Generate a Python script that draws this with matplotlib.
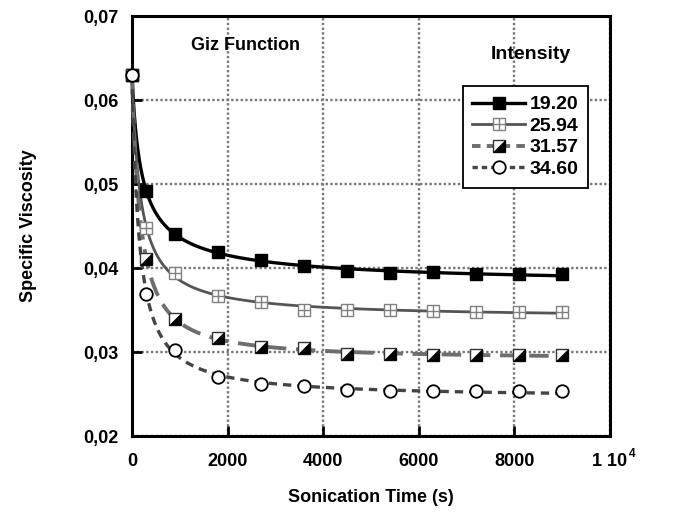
import numpy as np
import matplotlib.pyplot as plt
from matplotlib.lines import Line2D

plt.rcParams['font.family'] = ['Liberation Sans', 'DejaVu Sans']
plt.rcParams['font.weight'] = 'bold'

# Data
time_s = [0, 300, 900, 1800, 2700, 3600, 4500, 5400, 6300, 7200, 8100, 9000]
intensity_labels = ['19.20', '25.94', '31.57', '34.60']
visc_1920 = [0.0630, 0.0492, 0.0440, 0.0419, 0.0410, 0.0402, 0.0396, 0.0394, 0.0395, 0.0393, 0.0393, 0.0393]
visc_2594 = [0.0630, 0.0448, 0.0394, 0.0367, 0.0359, 0.0350, 0.0350, 0.0350, 0.0349, 0.0348, 0.0348, 0.0348]
visc_3157 = [0.0630, 0.0411, 0.0339, 0.0317, 0.0306, 0.0305, 0.0298, 0.0298, 0.0297, 0.0296, 0.0296, 0.0296]
visc_3460 = [0.0630, 0.0369, 0.0302, 0.0270, 0.0262, 0.0259, 0.0255, 0.0254, 0.0254, 0.0253, 0.0253, 0.0253]
series = [visc_1920, visc_2594, visc_3157, visc_3460]


def fit_curve(t, y):
    # y = a + (y0 - a) / (1 + k t)^n, grid search on k, n; a by least squares
    t = np.asarray(t, float)
    y = np.asarray(y, float)
    y0 = y[0]
    best = None
    for k in np.logspace(-4, 1, 120):
        for n in np.linspace(0.05, 3, 120):
            g = (1 + k * t) ** (-n)
            h = 1 - g
            a = np.sum((y - y0 * g) * h) / np.sum(h ** 2)
            err = np.sum((a * h + y0 * g - y) ** 2)
            if best is None or err < best[0]:
                best = (err, k, n, a)
    _, k, n, a = best
    return lambda tt: a + (y0 - a) * (1 + k * tt) ** (-n)


line_colors = ['black', '#555555', '#6e6e6e', '#444444']
line_widths = [2.4, 2.0, 2.8, 2.4]
line_dashes = ['-', '-', (0, (5, 2.5)), (0, (2.5, 1.8))]

fig = plt.figure(figsize=(6.82, 5.12), dpi=100)
ax = fig.add_axes([0.1935, 0.1484, 0.7009, 0.8203])

tt = np.linspace(0, 9000, 1500)
ms = 8.5
tri = [(-1, -1), (1, -1), (1, 1), (-1, -1)]

for i, y in enumerate(series):
    f = fit_curve(time_s, y)
    ax.plot(tt, f(tt), color=line_colors[i], lw=line_widths[i],
            linestyle=line_dashes[i], zorder=3, clip_on=False)

# markers
ax.plot(time_s, visc_1920, 's', ms=ms, color='black', zorder=4, clip_on=False)
ax.plot(time_s, visc_2594, 's', ms=ms, mfc='white', mec='#808080', mew=1.0, zorder=4, clip_on=False)
ax.plot(time_s, visc_2594, '+', ms=ms, mec='#808080', mew=1.0, zorder=4, clip_on=False)
ax.plot(time_s, visc_3157, 's', ms=ms, mfc='white', mec='#333333', mew=1.0, zorder=4, clip_on=False)
ax.plot(time_s, visc_3157, marker=tri, ls='none', ms=ms, mfc='black', mec='black', mew=0.5, zorder=4, clip_on=False)
ax.plot(time_s, visc_3460, 'o', ms=ms + 0.5, mfc='white', mec='black', mew=1.3, zorder=5, clip_on=False)

ax.set_xlim(0, 10000)
ax.set_ylim(0.02, 0.07)
ax.set_xticks([0, 2000, 4000, 6000, 8000, 10000])
ax.set_xticklabels(['0', '2000', '4000', '6000', '8000', '1 10'])
ax.set_yticks([0.02, 0.03, 0.04, 0.05, 0.06, 0.07])
ax.set_yticklabels(['0,02', '0,03', '0,04', '0,05', '0,06', '0,07'])
ax.tick_params(axis='both', direction='in', length=7, width=2, labelsize=13)
ax.tick_params(axis='x', pad=12)
ax.tick_params(axis='y', pad=10)
# superscript of the "1 10^4" label
ax.annotate('4', xy=(1, 0), xycoords='axes fraction', xytext=(13.5, -8.5),
            textcoords='offset points', ha='left', va='top', fontsize=8.5, fontweight='bold')
for s in ax.spines.values():
    s.set_linewidth(2.2)
ax.grid(True, color='#777777', linestyle=(0, (1, 1)), linewidth=1.7, zorder=1)
ax.set_axisbelow(True)

ax.set_xlabel('Sonication Time (s)', fontsize=13, fontweight='bold', labelpad=14)
ax.set_ylabel('Specific Viscosity', fontsize=13, fontweight='bold', labelpad=33)

ax.text(2380, 0.0665, 'Giz Function', ha='center', va='center', fontsize=13, fontweight='bold')
ax.text(8340, 0.0654, 'Intensity', ha='center', va='center', fontsize=14, fontweight='bold')

h1 = Line2D([], [], color='black', lw=2.4, marker='s', ms=ms)
h2a = Line2D([], [], color='#555555', lw=2.0, marker='s', ms=ms, mfc='white', mec='#808080', mew=1.0)
h2b = Line2D([], [], ls='none', marker='+', ms=ms, mec='#808080', mew=1.0)
h3a = Line2D([], [], color='#6e6e6e', lw=2.8, ls=(0, (2.2, 1.6)), marker='s', ms=ms, mfc='white', mec='#333333', mew=1.0)
h3b = Line2D([], [], ls='none', marker=tri, ms=ms, mfc='black', mec='black', mew=0.5)
h4 = Line2D([], [], color='#444444', lw=2.4, ls=(0, (1.6, 1.2)), marker='o', ms=ms + 0.5, mfc='white', mec='black', mew=1.3)

leg = ax.legend([h1, (h2a, h2b), (h3a, h3b), h4], intensity_labels, loc='upper right',
                bbox_to_anchor=(0.955, 0.833), borderaxespad=0, fancybox=False,
                framealpha=1, edgecolor='black', numpoints=1, handlelength=2.7,
                handletextpad=0.25, labelspacing=0.2, borderpad=0.5,
                prop={'size': 14, 'weight': 'bold'})
leg.get_frame().set_linewidth(1.3)
leg.set_zorder(6)

fig.savefig('out.png', dpi=100)
